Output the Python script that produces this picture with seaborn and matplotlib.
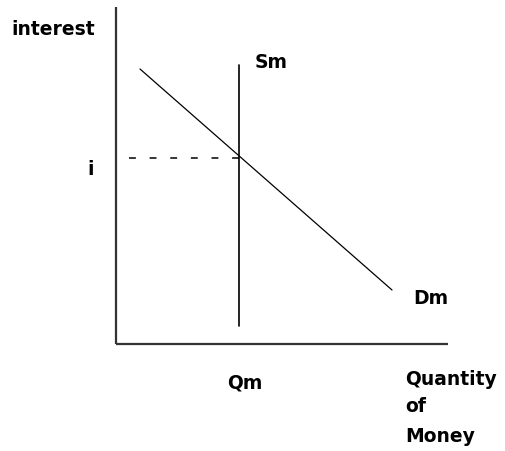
import matplotlib
matplotlib.use('Agg')
import matplotlib.pyplot as plt
import seaborn as sns
import pandas as pd

# Datos del diagrama (cantidad de dinero vs tipo de interés)
demand_q = [0.24, 2.76]
demand_i = [2.75, 0.54]
supply_q = [1.23, 1.23]
supply_i = [0.18, 2.79]
eq_q = 1.23
eq_i = 1.86
axis_q_max = 3.32
axis_i_max = 3.37

sns.set_style('white')
plt.rcParams['font.family'] = ['DejaVu Sans']

fig = plt.figure(figsize=(5.06, 4.52), dpi=100)
ax = fig.add_axes([0, 0, 1, 1])

demanda = pd.DataFrame({'q': demand_q, 'i': demand_i})
oferta = pd.DataFrame({'q': supply_q, 'i': supply_i})
sns.lineplot(data=demanda, x='q', y='i', ax=ax, color='black', linewidth=0.9,
             sort=False, estimator=None)
sns.lineplot(data=oferta, x='q', y='i', ax=ax, color='black', linewidth=1.2,
             sort=False, estimator=None)

# línea punteada desde el equilibrio hasta el eje del interés
ax.plot([eq_q, 0], [eq_i, eq_i], color='black', linewidth=1.1,
        dashes=(4.5, 9), dash_capstyle='butt')

# ejes
ax.plot([0, axis_q_max], [0, 0], color='#333333', linewidth=1.6, solid_capstyle='butt')
ax.plot([0, 0], [0, axis_i_max], color='#333333', linewidth=1.6, solid_capstyle='butt')

ax.set_xlim(-1.16, 3.90)
ax.set_ylim(-1.07, 3.45)
ax.axis('off')

fs = 13.5
kw = dict(fontsize=fs, fontweight='bold', va='baseline', ha='left', color='black')
ax.text(-1.05, 3.10, 'interest', **kw)
ax.text(-0.29, 1.70, 'i', **kw)
ax.text(1.39, 2.77, 'Sm', **kw)
ax.text(2.97, 0.41, 'Dm', **kw)
ax.text(1.11, -0.44, 'Qm', **kw)
ax.text(2.89, -0.40, 'Quantity', **kw)
ax.text(2.89, -0.67, 'of', **kw)
ax.text(2.89, -0.97, 'Money', **kw)

plt.savefig('out.png', dpi=100)
